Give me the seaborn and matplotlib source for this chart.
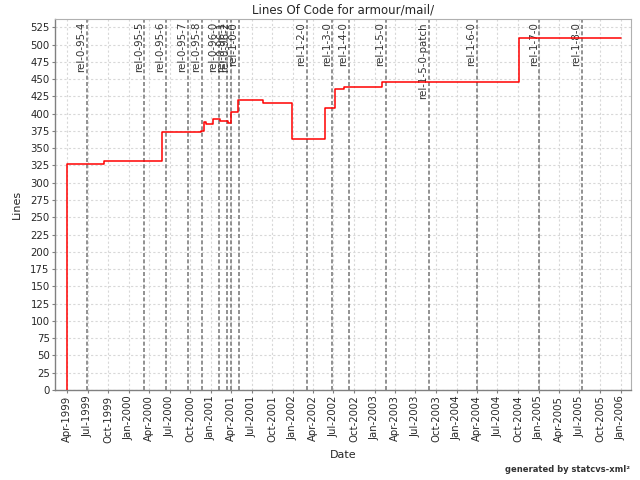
import pandas as pd
import matplotlib
matplotlib.use("Agg")
import matplotlib.pyplot as plt
import matplotlib.dates as mdates
import seaborn as sns


# lines of code, step changes (date the count changed, new count)
change_dates = ['1999-03-29', '1999-03-29', '1999-09-13', '2000-05-29',
                '2000-11-16', '2000-12-02', '2000-12-08', '2001-01-11',
                '2001-02-10', '2001-03-19', '2001-03-31', '2001-05-03',
                '2001-08-22', '2001-12-27', '2002-05-26', '2002-07-09',
                '2002-08-17', '2003-02-01', '2004-10-07', '2006-01-02']
loc_values = [0, 327, 332, 373,
              375, 388, 385, 393,
              389, 387, 403, 420,
              416, 364, 408, 435,
              438, 446, 510, 510]

# tagged releases
release_names = ['rel-0-95-4', 'rel-0-95-5', 'rel-0-95-6', 'rel-0-95-7',
                 'rel-0-95-8', 'rel-0-96-0', 'rel-0-96-1', 'rel-0-96-2',
                 'rel-1-0-0', 'rel-1-2-0', 'rel-1-3-0', 'rel-1-4-0',
                 'rel-1-5-0', 'rel-1-5-0-patch', 'rel-1-6-0', 'rel-1-7-0',
                 'rel-1-8-0']
release_dates = ['1999-06-27', '2000-03-10', '2000-06-14', '2000-09-19',
                 '2000-11-21', '2001-02-07', '2001-03-12', '2001-03-30',
                 '2001-05-07', '2002-03-04', '2002-06-26', '2002-09-08',
                 '2003-02-18', '2003-08-31', '2004-03-31', '2005-01-04',
                 '2005-07-12']

df = pd.DataFrame({'Date': pd.to_datetime(change_dates), 'Lines': loc_values})

sns.set_theme(style="white")
plt.rcParams['font.family'] = ['DejaVu Sans']

fig = plt.figure(figsize=(6.4, 4.8), dpi=100)
ax = fig.add_axes([0.0864, 0.1875, 0.8991, 0.7723])

# release markers
for name, d in zip(release_names, pd.to_datetime(release_dates)):
    ax.axvline(d, color='#7f7f7f', linewidth=1.2, dashes=(2.4, 1.4), zorder=2)
    ax.annotate(name, xy=(d, 1), xycoords=('data', 'axes fraction'),
                xytext=(-0.5, -2), textcoords='offset points',
                rotation=90, ha='right', va='top', fontsize=7.4,
                color='#333333')

sns.lineplot(data=df, x='Date', y='Lines', drawstyle='steps-post',
             estimator=None, sort=False,
             color='#ff0000', linewidth=1.1, ax=ax, zorder=3)

ax.set_xlim(pd.Timestamp('1999-02-07'), pd.Timestamp('2006-02-15'))
ax.set_ylim(0, 536.6)
ax.set_yticks(range(0, 526, 25))
ax.xaxis.set_major_locator(mdates.MonthLocator(bymonth=[1, 4, 7, 10]))
ax.xaxis.set_major_formatter(mdates.DateFormatter('%b-%Y'))
plt.setp(ax.get_xticklabels(), rotation=90)

ax.grid(True, color='#d8d8d8', linestyle=(0, (2, 2)), linewidth=0.8)
ax.set_axisbelow(True)
ax.tick_params(axis='both', labelsize=7.3, length=2, width=0.8,
               color='#808080', pad=2, left=True, bottom=True)
for side in ['top', 'right']:
    ax.spines[side].set_color('#b0b0b0')
    ax.spines[side].set_linewidth(0.8)
for side in ['left', 'bottom']:
    ax.spines[side].set_color('#808080')
    ax.spines[side].set_linewidth(1.0)

ax.set_xlabel('Date', fontsize=8, labelpad=5)
ax.set_ylabel('Lines', fontsize=8, labelpad=6)
ax.set_title('Lines Of Code for armour/mail/', fontsize=8.5, pad=4)

fig.text(0.985, 0.013, 'generated by statcvs-xml²', ha='right', va='bottom',
         fontsize=6, fontweight='bold', color='#333333')

fig.savefig('out.png', dpi=100)
